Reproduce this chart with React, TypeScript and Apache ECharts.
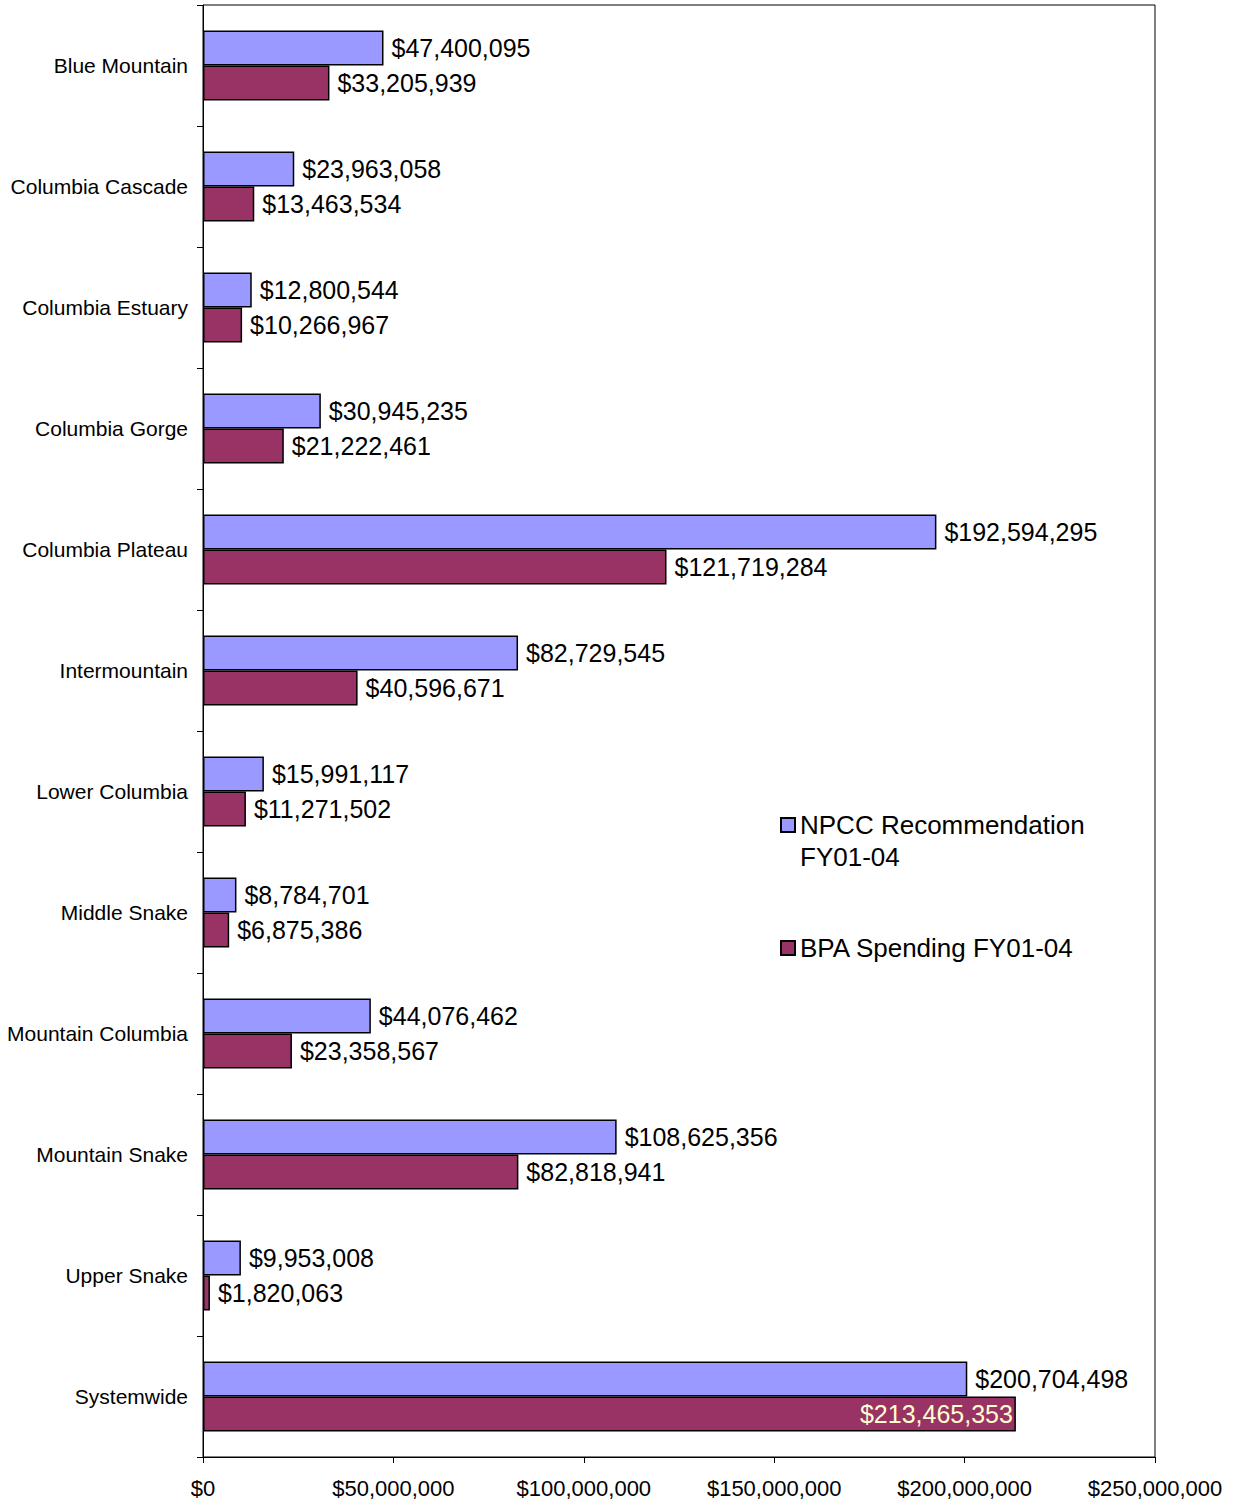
import React, { useEffect, useRef } from "react";
import * as echarts from "echarts";

const categories = [
  "Blue Mountain",
  "Columbia Cascade",
  "Columbia Estuary",
  "Columbia Gorge",
  "Columbia Plateau",
  "Intermountain",
  "Lower Columbia",
  "Middle Snake",
  "Mountain Columbia",
  "Mountain Snake",
  "Upper Snake",
  "Systemwide",
];

const npccValues = [
  47400095, 23963058, 12800544, 30945235, 192594295, 82729545, 15991117,
  8784701, 44076462, 108625356, 9953008, 200704498,
];

const bpaValues = [
  33205939, 13463534, 10266967, 21222461, 121719284, 40596671, 11271502,
  6875386, 23358567, 82818941, 1820063, 213465353,
];

const xTicks = [0, 50000000, 100000000, 150000000, 200000000, 250000000];

const npccName = "NPCC Recommendation FY01-04";
const bpaName = "BPA Spending FY01-04";

function money(v: number): string {
  const s = Math.round(v).toString();
  return "$" + s.replace(/\B(?=(\d{3})+(?!\d))/g, ",");
}

const FONT = "'Liberation Sans', Arial, sans-serif";

export default function App() {
  const ref = useRef<HTMLDivElement>(null);

  useEffect(() => {
    if (!ref.current) return;
    const chart = echarts.init(ref.current, undefined, { renderer: "svg" });

    const labelBase = {
      show: true,
      position: "right" as const,
      distance: 8,
      color: "#000",
      fontSize: 25,
      fontFamily: FONT,
      formatter: (p: any) => money(p.value),
    };

    const bpaData = bpaValues.map((v, i) =>
      i === bpaValues.length - 1
        ? {
            value: v,
            label: {
              position: "insideRight" as const,
              distance: 3,
              color: "#FFFFCC",
            },
          }
        : v
    );

    chart.setOption({
      animation: false,
      backgroundColor: "#fff",
      textStyle: { fontFamily: FONT, color: "#000" },
      grid: {
        left: 203,
        right: 79,
        top: 5,
        bottom: 43,
        show: true,
        borderColor: "#000",
        borderWidth: 1,
        backgroundColor: "transparent",
      },
      legend: [
        {
          data: [npccName],
          orient: "vertical",
          left: 780,
          top: 777,
          padding: 0,
          itemWidth: 14,
          itemHeight: 14,
          icon: "rect",
          formatter: () => " \nNPCC Recommendation\nFY01-04",
          textStyle: {
            fontSize: 26,
            lineHeight: 32,
            fontFamily: FONT,
            color: "#000",
          },
        },
        {
          data: [bpaName],
          orient: "vertical",
          left: 780,
          top: 932,
          padding: 0,
          itemWidth: 14,
          itemHeight: 14,
          icon: "rect",
          textStyle: {
            fontSize: 26,
            lineHeight: 32,
            fontFamily: FONT,
            color: "#000",
          },
        },
      ],
      xAxis: {
        type: "value",
        min: 0,
        max: 250000000,
        interval: 50000000,
        splitLine: { show: false },
        axisLine: { show: true, lineStyle: { color: "#000", width: 1 } },
        axisTick: {
          show: true,
          inside: false,
          length: 6,
          lineStyle: { color: "#000" },
        },
        axisLabel: {
          color: "#000",
          fontSize: 22,
          fontFamily: FONT,
          margin: 20,
          formatter: (v: number) => (xTicks.includes(v) ? money(v) : ""),
        },
      },
      yAxis: {
        type: "category",
        inverse: true,
        data: categories,
        axisLine: { show: true, lineStyle: { color: "#000", width: 1 } },
        axisTick: {
          show: true,
          inside: false,
          length: 6,
          lineStyle: { color: "#000" },
        },
        axisLabel: {
          color: "#000",
          fontSize: 21,
          fontFamily: FONT,
          margin: 15,
        },
      },
      series: [
        {
          name: npccName,
          type: "bar",
          data: npccValues,
          barGap: "0%",
          barCategoryGap: "42%",
          itemStyle: { color: "#9999FF", borderColor: "#000", borderWidth: 1.5 },
          label: labelBase,
        },
        {
          name: bpaName,
          type: "bar",
          data: bpaData,
          barGap: "0%",
          barCategoryGap: "42%",
          itemStyle: { color: "#993366", borderColor: "#000", borderWidth: 1.5 },
          label: labelBase,
        },
      ],
    });

    return () => chart.dispose();
  }, []);

  return (
    <div
      ref={ref}
      style={{
        position: "absolute",
        left: 0,
        top: 0,
        width: 1234,
        height: 1500,
        background: "#fff",
      }}
    />
  );
}
